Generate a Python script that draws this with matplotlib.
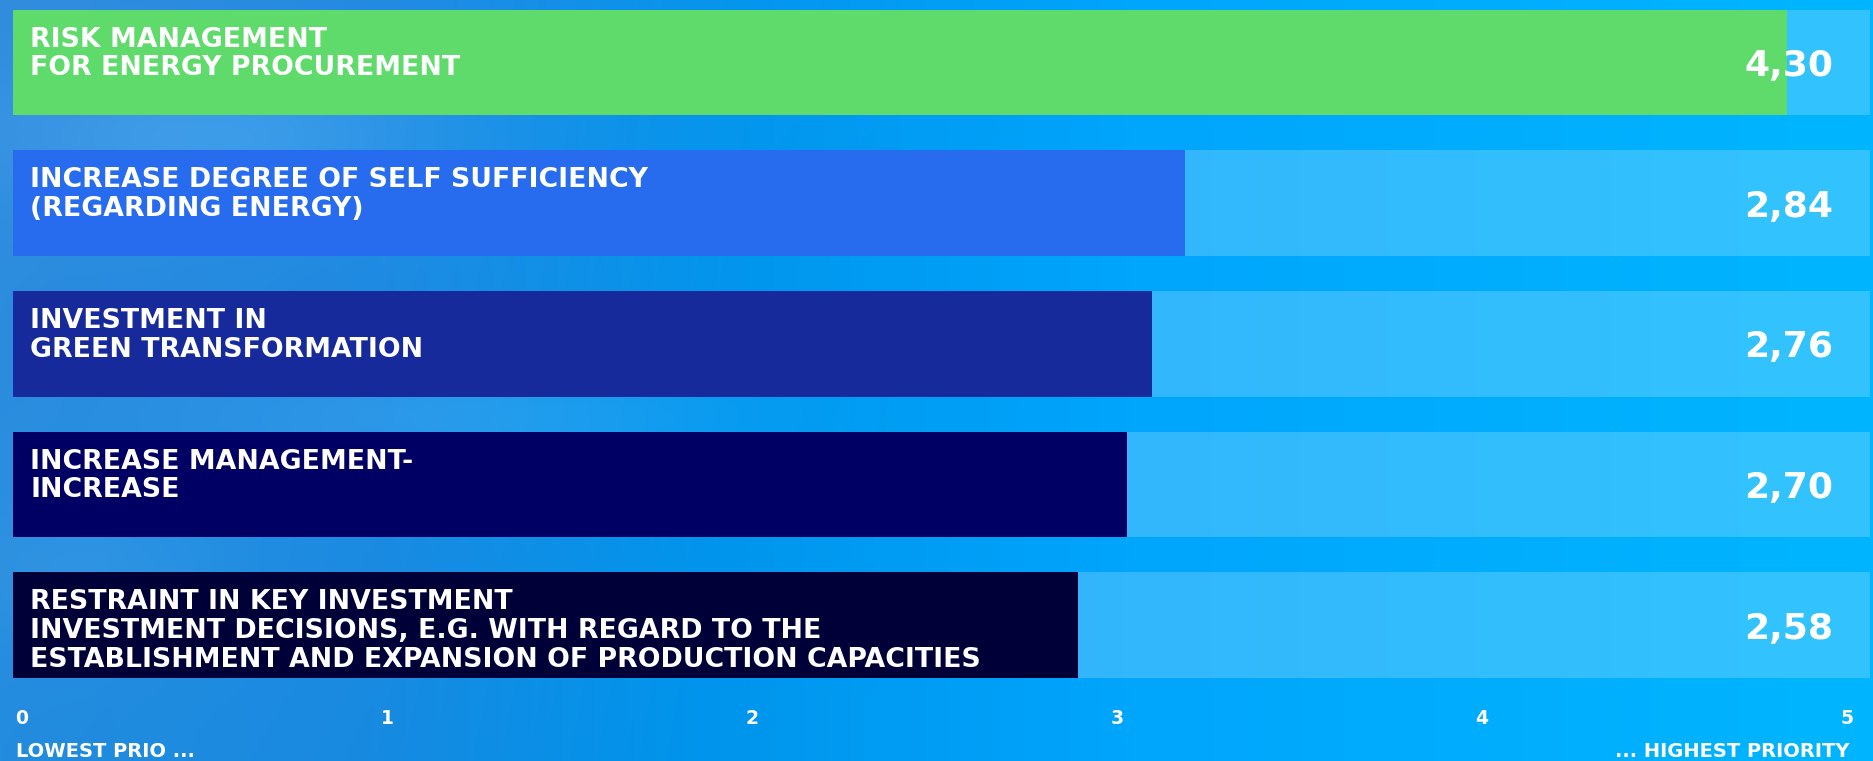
import numpy as np
import matplotlib
matplotlib.use("Agg")
import matplotlib.pyplot as plt

# ---------------- data ----------------
categories = [
    "RISK MANAGEMENT\nFOR ENERGY PROCUREMENT",
    "INCREASE DEGREE OF SELF SUFFICIENCY\n(REGARDING ENERGY)",
    "INVESTMENT IN\nGREEN TRANSFORMATION",
    "INCREASE MANAGEMENT-\nINCREASE",
    "RESTRAINT IN KEY INVESTMENT\nINVESTMENT DECISIONS, E.G. WITH REGARD TO THE\nESTABLISHMENT AND EXPANSION OF PRODUCTION CAPACITIES",
]
values = [4.30, 2.84, 2.76, 2.70, 2.58]
bar_colors = ["#5edb6a", "#276cee", "#162a9c", "#000064", "#000038"]
tick_values = [0, 1, 2, 3, 4, 5]
tick_labels = ["0", "1", "2", "3", "4", "5"]
low_label = "LOWEST PRIO ..."
high_label = "... HIGHEST PRIORITY"
XMAX = 4.5

W, H = 1874, 761
DPI = 100
FONT = ["DejaVu Sans"]

fig = plt.figure(figsize=(W / DPI, H / DPI), dpi=DPI)

# ---------------- background (sky gradient) ----------------
bg = fig.add_axes([0, 0, 1, 1])
xx = np.linspace(0, 1, W)[None, :]
yy = np.linspace(0, 1, H)[:, None]
stops_x = [0.0, 0.2, 0.4, 0.6, 1.0]
r = np.interp(xx, stops_x, [50, 35, 5, 0, 0])
g = np.interp(xx, stops_x, [140, 138, 150, 165, 182])
b = np.interp(xx, stops_x, [222, 225, 238, 252, 255])
img = np.zeros((H, W, 3))
img[..., 0] = r + 0 * yy
img[..., 1] = g + 0 * yy
img[..., 2] = b + 0 * yy
# soft cloud highlights on the left
for cx, cy, sx, sy, amp in [(0.12, 0.18, 0.12, 0.10, 22), (0.25, 0.55, 0.15, 0.08, 18),
                             (0.05, 0.75, 0.08, 0.10, 10)]:
    blob = amp * np.exp(-(((xx - cx) / sx) ** 2 + ((yy - cy) / sy) ** 2))
    img[..., 0] += blob
    img[..., 1] += blob * 0.8
    img[..., 2] += blob * 0.4
# bottom slightly deeper
img[..., 0] -= 15 * yy * (1 - xx)
img = np.clip(img, 0, 255) / 255.0
bg.imshow(img, extent=[0, 1, 0, 1], aspect="auto", zorder=0)
bg.set_xlim(0, 1)
bg.set_ylim(0, 1)
bg.axis("off")

# ---------------- main bar axes ----------------
left_px, right_px = 13, 1870
top_px, bot_px = 9.6, 678
ax = fig.add_axes([left_px / W, 1 - bot_px / H, (right_px - left_px) / W, (bot_px - top_px) / H])
ax.patch.set_alpha(0)
n = len(values)
ypos = np.arange(n)
bh = 0.75
ax.set_xlim(0, XMAX)
ax.set_ylim(n - 1 + bh / 2, -bh / 2)
ax.axis("off")

ax.barh(ypos, [XMAX] * n, height=bh, left=0, color="white", alpha=0.2, linewidth=0)
ax.barh(ypos, values, height=bh, left=0, color=bar_colors, linewidth=0)

for i, (lab, v) in enumerate(zip(categories, values)):
    ax.annotate(lab, xy=(0, i - bh / 2), xytext=(17.5, -17), textcoords="offset pixels",
                ha="left", va="top", fontsize=19.3, fontweight="bold", color="white",
                family=FONT, linespacing=1.13)
    ax.annotate(f"{v:.2f}".replace(".", ","), xy=(XMAX, i), xytext=(-37, 0),
                textcoords="offset pixels", ha="right", va="center_baseline",
                fontsize=26, fontweight="bold", color="white", family=FONT)

# ---------------- scale ticks ----------------
t0, t5 = 22, 1847
base_px = 724
axt = fig.add_axes([t0 / W, 1 - base_px / H, (t5 - t0) / W, 0.01])
axt.set_xlim(tick_values[0], tick_values[-1])
axt.set_ylim(0, 1)
axt.axis("off")
for tv, tl in zip(tick_values, tick_labels):
    axt.text(tv, 0, tl, ha="center", va="baseline", fontsize=13.5, fontweight="bold",
             color="white", family=FONT)

fig.text(16 / W, 1 - 757 / H, low_label, ha="left", va="baseline", fontsize=14,
         fontweight="bold", color="white", family=FONT)
fig.text(1850 / W, 1 - 757 / H, high_label, ha="right", va="baseline", fontsize=14,
         fontweight="bold", color="white", family=FONT)

fig.savefig("out.png", dpi=DPI)
